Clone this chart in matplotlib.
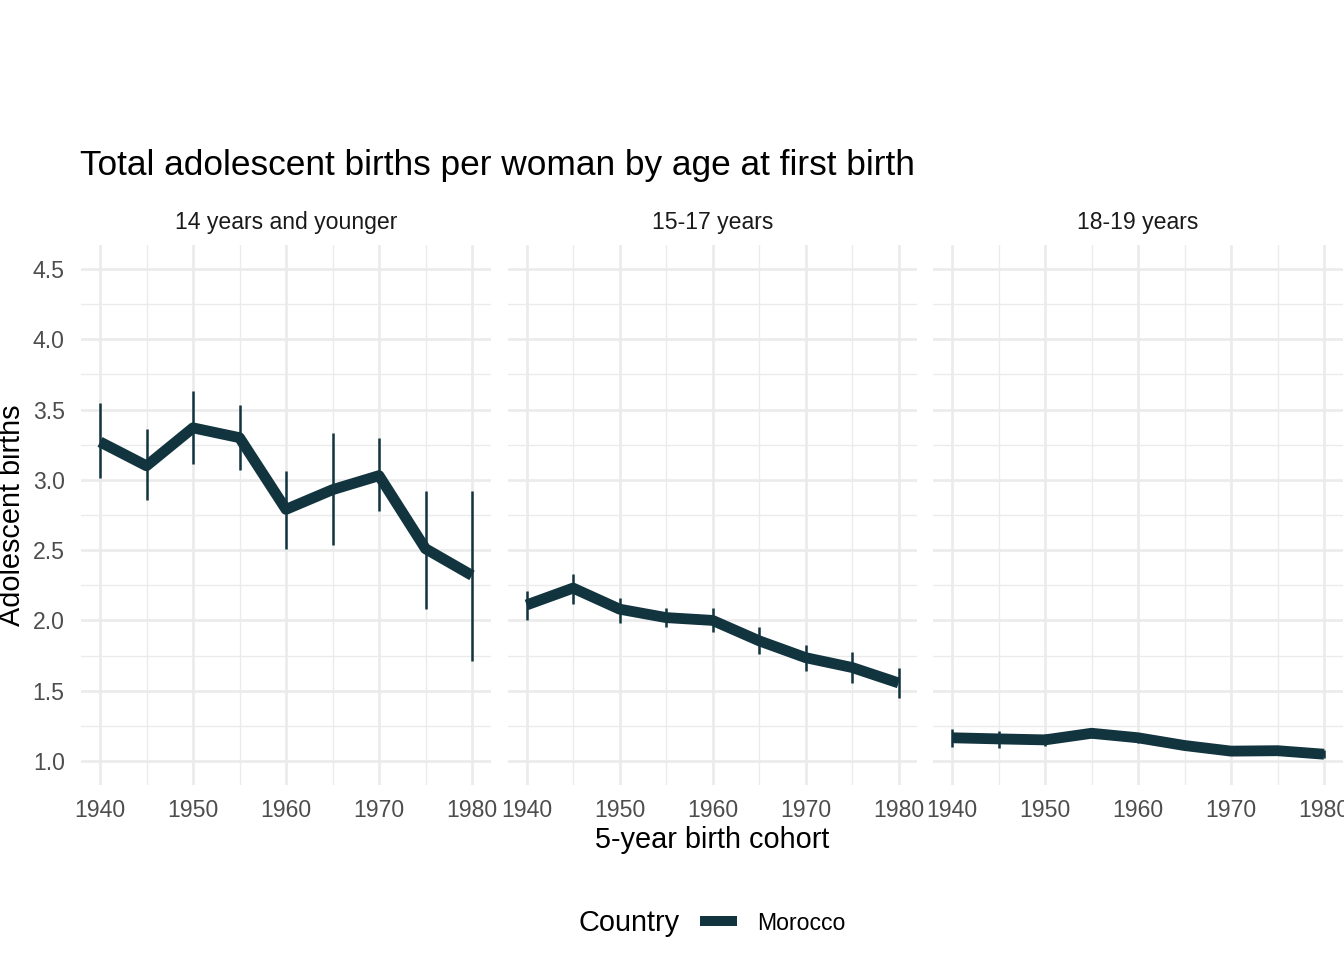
import matplotlib
matplotlib.use("Agg")
import matplotlib.pyplot as plt
from matplotlib.lines import Line2D

plt.rcParams['font.family'] = ['Liberation Sans', 'DejaVu Sans']

# data
years = [1940, 1945, 1950, 1955, 1960, 1965, 1970, 1975, 1980]
panels = ['14 years and younger', '15-17 years', '18-19 years']

births_14 = [3.27, 3.10, 3.37, 3.30, 2.79, 2.93, 3.03, 2.51, 2.32]
low_14 = [3.01, 2.86, 3.11, 3.07, 2.51, 2.54, 2.78, 2.08, 1.71]
high_14 = [3.55, 3.36, 3.63, 3.53, 3.06, 3.33, 3.30, 2.92, 2.92]

births_15 = [2.11, 2.23, 2.08, 2.02, 2.00, 1.855, 1.735, 1.665, 1.555]
low_15 = [2.00, 2.12, 1.985, 1.95, 1.915, 1.76, 1.64, 1.555, 1.445]
high_15 = [2.21, 2.33, 2.16, 2.085, 2.085, 1.95, 1.825, 1.775, 1.66]

births_18 = [1.165, 1.157, 1.15, 1.197, 1.165, 1.11, 1.07, 1.073, 1.048]
low_18 = [1.10, 1.095, 1.11, 1.16, 1.13, 1.08, 1.04, 1.04, 1.02]
high_18 = [1.225, 1.21, 1.19, 1.235, 1.20, 1.14, 1.10, 1.105, 1.075]

series = [(births_14, low_14, high_14),
          (births_15, low_15, high_15),
          (births_18, low_18, high_18)]

line_color = '#12343f'
grid_color = '#ebebeb'

W, H = 1344, 960
fig = plt.figure(figsize=(W / 100, H / 100), dpi=100)

top_px, bottom_px = 245, 785
lefts = [81.4, 508.0, 933.4]
panel_w = 409.2

for i, (name, (mid, lo, hi)) in enumerate(zip(panels, series)):
    ax = fig.add_axes([lefts[i] / W, 1 - bottom_px / H,
                       panel_w / W, (bottom_px - top_px) / H])

    ax.set_xticks([1940, 1950, 1960, 1970, 1980])
    ax.set_xticks([1945, 1955, 1965, 1975], minor=True)
    ax.set_yticks([1.0, 1.5, 2.0, 2.5, 3.0, 3.5, 4.0, 4.5])
    ax.set_yticks([1.25, 1.75, 2.25, 2.75, 3.25, 3.75, 4.25], minor=True)
    ax.set_xlim(1938, 1982)
    ax.set_ylim(0.829, 4.671)
    ax.grid(which='major', color=grid_color, linewidth=1.9)
    ax.grid(which='minor', color=grid_color, linewidth=1.0)
    ax.set_axisbelow(True)
    for s in ax.spines.values():
        s.set_visible(False)
    ax.tick_params(which='both', length=0, labelsize=16.6, labelcolor='#4d4d4d')
    ax.tick_params(axis='x', pad=10)
    ax.tick_params(axis='y', pad=12)
    if i == 0:
        ax.set_yticklabels(['1.0', '1.5', '2.0', '2.5', '3.0', '3.5', '4.0', '4.5'])
    else:
        ax.set_yticklabels([])

    ax.vlines(years, lo, hi, color=line_color, linewidth=1.8, zorder=3)
    ax.plot(years, mid, color=line_color, linewidth=7.8,
            solid_capstyle='butt', solid_joinstyle='round', zorder=4)

    ax.text(0.5, 1.0 + 22 / (bottom_px - top_px), name, transform=ax.transAxes,
            ha='center', va='center', fontsize=16.6, color='#1a1a1a')

fig.text(80 / W, 1 - 165 / H, 'Total adolescent births per woman by age at first birth',
         ha='left', va='center', fontsize=25.4, color='black')
fig.text(711.7 / W, 1 - 840 / H, '5-year birth cohort',
         ha='center', va='center', fontsize=20.8, color='black')
fig.text(12 / W, 1 - 515 / H, 'Adolescent births', rotation=90,
         ha='center', va='center', fontsize=20.8, color='black')

fig.text(629 / W, 1 - 923 / H, 'Country', ha='center', va='center',
         fontsize=20.8, color='black')
handle = Line2D([], [], color=line_color, linewidth=7.2, solid_capstyle='butt')
fig.legend([handle], ['Morocco'], loc='center left',
           bbox_to_anchor=(700 / W, 1 - 923 / H), frameon=False,
           fontsize=16.6, handlelength=1.6, handletextpad=0.87,
           borderpad=0, borderaxespad=0)

fig.savefig('out.png', dpi=100)
